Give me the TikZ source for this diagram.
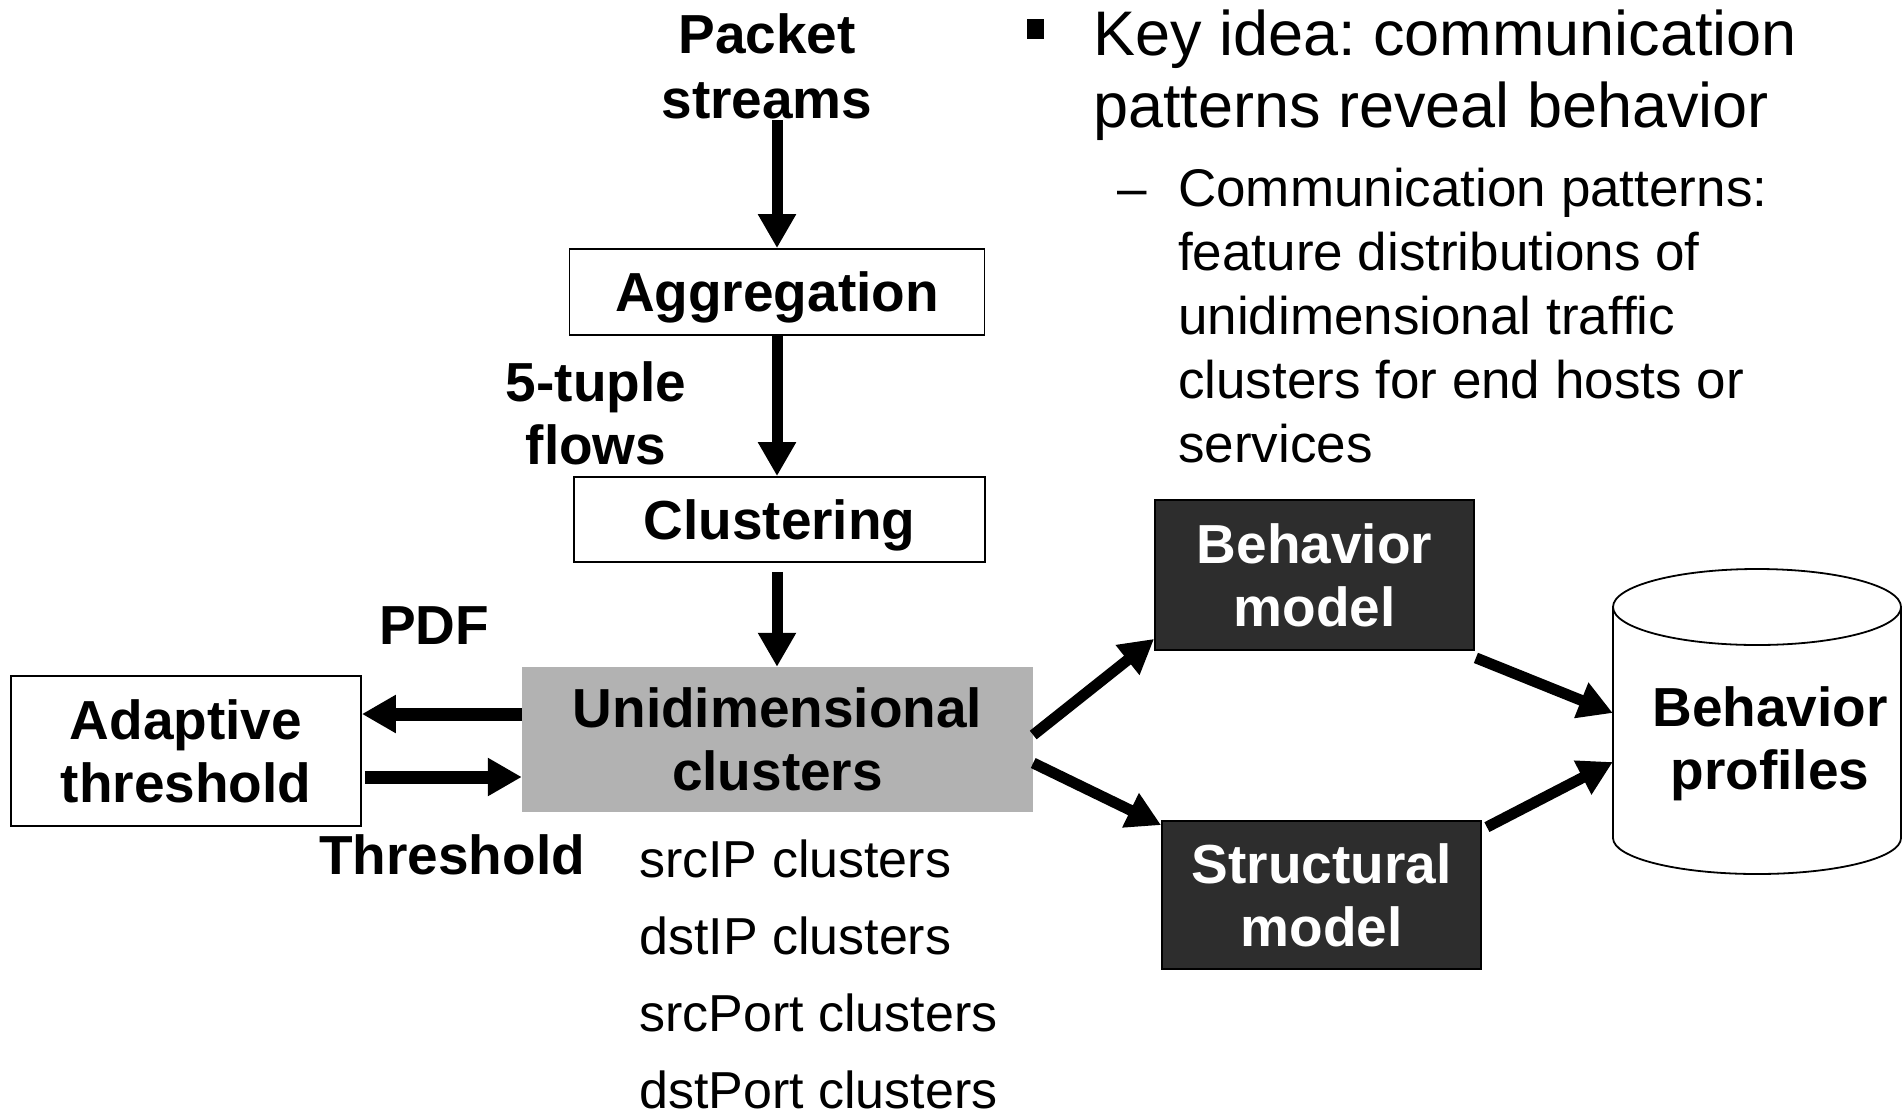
\documentclass[tikz,border=0pt]{standalone}
\usepackage{fontspec}
\setmainfont{Liberation Sans}
\usetikzlibrary{arrows.meta,calc}
\definecolor{clustergray}{HTML}{B2B2B2}
\definecolor{modeldark}{HTML}{2D2D2D}
\frenchspacing
\begin{document}
\begin{tikzpicture}[x=1pt,y=-1pt,
  flow/.style={line width=11pt,-{Triangle[length=34pt,width=36pt]}},
  hflow/.style={line width=13pt,-{Triangle[length=34pt,width=36pt]}},
  boldtxt/.style={font=\bfseries\fontsize{55}{63}\selectfont,align=center,inner sep=0pt},
  stagebox/.style={boldtxt,draw,line width=1.8pt},
  onelinebox/.style={stagebox,text height=39.5pt,text depth=0pt},
  modelbox/.style={boldtxt,draw=black,line width=1.8pt,fill=modeldark,text=white},
  plaintxt/.style={inner sep=0pt,align=left,anchor=base west}]

\path[use as bounding box,fill=white] (0,0) rectangle (1904,1112);

% pipeline column (multi-line text nodes are placed by the baseline of their last line)
\node[boldtxt,anchor=base,font=\bfseries\fontsize{55}{65}\selectfont] (pkt) at (767,118) {Packet\\streams};
\node[onelinebox,minimum width=415pt,minimum height=86pt] (agg) at (777,292) {Aggregation};
\node[boldtxt,anchor=base] (tup) at (596,464) {5-tuple\\flows};
\node[onelinebox,minimum width=411pt,minimum height=85pt] (clu) at (779.5,519.5) {Clustering};
\node[boldtxt,fill=clustergray,minimum width=511pt,minimum height=145pt] (unid) at (777.5,739.5) {Unidimensional\\clusters};

\draw[flow] ($(agg.north)+(0,-128)$) coordinate (pktfoot) -- (agg.north);
\draw[flow] (agg.south) -- (agg.south |- clu.north);
\draw[flow] ($(clu.south -| agg.south)+(0,9)$) -- (agg.south |- unid.north);

% adaptive threshold loop
\node[stagebox,minimum width=350pt,minimum height=150pt] (adapt) at (186,751) {Adaptive\\threshold};
\draw[hflow] ($(unid.west)+(0,-25.5)$) coordinate (pdfout) -- (adapt.east |- pdfout);
\draw[hflow] ($(adapt.east)+(3,26)$) coordinate (throut) -- (unid.west |- throut);
\node[boldtxt,anchor=base] (pdf) at (434,644) {PDF};
\node[boldtxt,anchor=base] (thr) at (452,874) {Threshold};

% cluster dimensions
\node[plaintxt,font=\fontsize{52}{77}\selectfont] (dims) at (639,1108)
  {srcIP clusters\\dstIP clusters\\srcPort clusters\\dstPort clusters};

% models
\node[modelbox,minimum width=319pt,minimum height=150pt] (beh) at (1314.5,575) {Behavior\\model};
\node[modelbox,minimum width=319pt,minimum height=148pt] (str) at (1321.5,895) {Structural\\model};

% behavior profiles store
\draw[line width=1.8pt,fill=white] (1613,607) -- (1613,838)
  arc[start angle=180,end angle=0,x radius=144,y radius=36] -- (1901,607);
\draw[line width=1.8pt,fill=white] (1757,607) ellipse[x radius=144,y radius=38];
\node[minimum width=288pt,minimum height=231pt,inner sep=0pt] (prof) at (1757,722.5) {};
\node[boldtxt,anchor=base] (proftxt) at (1770,789) {Behavior\\profiles};

\draw[flow] ($(unid.east)+(0,-4.5)$) -- ($(beh.south west)+(0,-12)$);
\draw[flow] ($(unid.east)+(0,23.5)$) -- ($(str.north west)+(0,5)$);
\draw[flow] ($(beh.south east)+(1,7)$) -- ($(prof.west)+(0,-9.5)$);
\draw[flow] ($(str.north east)+(5,7)$) -- ($(prof.west)+(0,39.5)$);

% key idea text
\node[fill=black,minimum width=17pt,minimum height=20pt,inner sep=0pt] (sq) at (1035,28.5) {};
\node[plaintxt,font=\fontsize{63}{72}\selectfont] (key) at (1093,127)
  {Key idea: communication\\patterns reveal behavior};
\node[plaintxt,font=\fontsize{53}{64}\selectfont] (subdash) at (1117,206) {–};
\node[plaintxt,font=\fontsize{53}{64}\selectfont] (sub) at (1178,462)
  {Communication patterns:\\feature distributions of\\unidimensional traffic\\clusters for end hosts or\\services};
\end{tikzpicture}
\end{document}
